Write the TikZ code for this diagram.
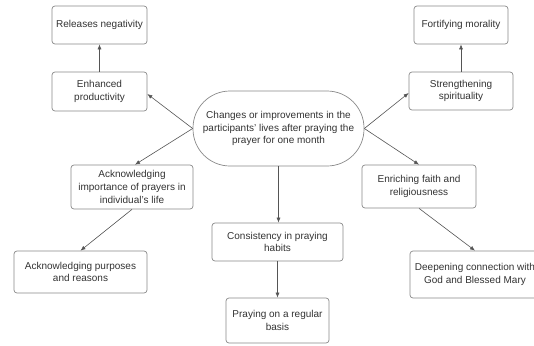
\documentclass[tikz,border=0pt]{standalone}
\usepackage{fontspec}
\setmainfont{Liberation Sans}
\usetikzlibrary{arrows.meta}
\definecolor{boxline}{HTML}{8A8A8A}
\definecolor{txt}{HTML}{333333}
\definecolor{arr}{HTML}{555555}
\begin{document}
\begin{tikzpicture}[x=1pt,y=-1pt,
  box/.style={draw=boxline, line width=0.7pt, rounded corners=3pt, fill=white,
    text=txt, align=center, font=\fontsize{10}{12.8}\selectfont, inner sep=0pt},
  link/.style={draw=arr, line width=0.6pt, -{Latex[length=5pt,width=4pt]}}]
\fill[white] (0,0) rectangle (534,345);
\useasboundingbox (0,0) rectangle (534,345);
\clip (0,0) rectangle (534,345);
\node[box, minimum width=95pt, minimum height=38pt] (rel) at (99.5,25) {Releases negativity};
\node[box, minimum width=95pt, minimum height=39pt] (enh) at (99.5,91.5) {Enhanced\\productivity};
\node[box, minimum width=171pt, minimum height=75pt, rounded corners=37pt] (cen) at (278.5,128.5)
  {Changes or improvements in the\\participants' lives after praying the\\prayer for one month};
\node[box, minimum width=122pt, minimum height=44pt] (imp) at (132,187)
  {Acknowledging\\importance of prayers in\\individual's life};
\node[box, minimum width=133pt, minimum height=42pt] (pur) at (80.5,272)
  {Acknowledging purposes\\and reasons};
\node[box, minimum width=131pt, minimum height=38pt] (con) at (277.5,242)
  {Consistency in praying\\habits};
\node[box, minimum width=103pt, minimum height=45pt] (reg) at (277.5,320.5)
  {Praying on a regular\\basis};
\node[box, minimum width=104pt, minimum height=38pt] (str) at (461,91)
  {Strengthening\\spirituality};
\node[box, minimum width=94pt, minimum height=38pt] (fort) at (461,25)
  {Fortifying morality};
\node[box, minimum width=114pt, minimum height=43pt] (enr) at (419,186.5)
  {Enriching faith and\\religiousness};
\node[box, minimum width=130pt, minimum height=47pt] (dee) at (475,274.5)
  {Deepening connection with\\God and Blessed Mary};
\draw[link] (enh.north) -- (rel.south);
\draw[link] (cen.west) -- ([yshift=-2.5pt]enh.east);
\draw[link] (cen.west) -- ([xshift=3pt]imp.north);
\draw[link] (imp.south) -- (pur.north);
\draw[link] (cen.south) -- (cen.south |- con.north);
\draw[link] (con.south) -- (reg.north);
\draw[link] (cen.east) -- ([yshift=-2pt]str.west);
\draw[link] (str.north) -- (fort.south);
\draw[link] (cen.east) -- (enr.north);
\draw[link] (enr.south) -- (dee.north);
\end{tikzpicture}
\end{document}
